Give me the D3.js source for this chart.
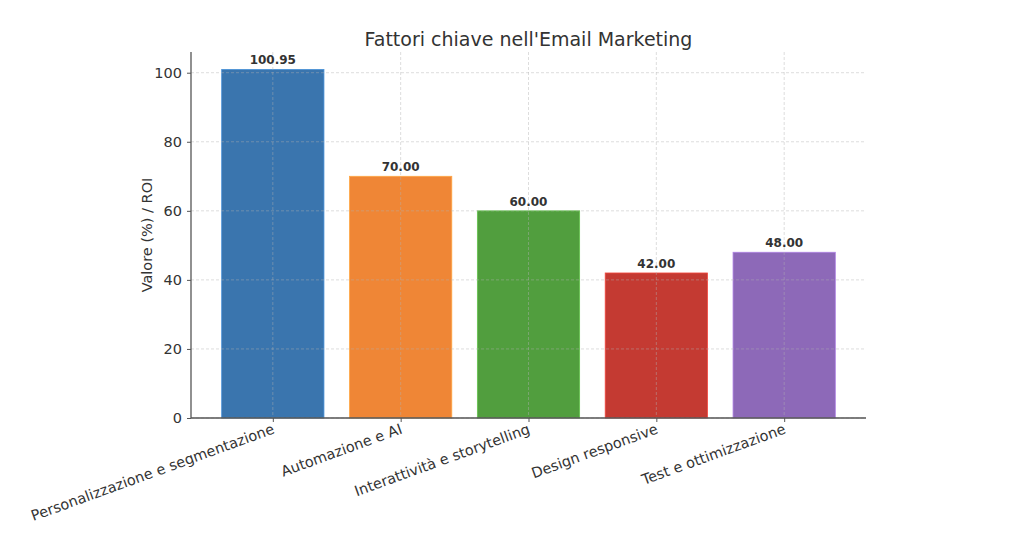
<!DOCTYPE html>
<html>
<head>
	<meta charset="utf-8">
	<title>email marketing</title>
	<script src="https://cdn.jsdelivr.net/npm/d3@7"></script>
	<style>
		body{margin:0;background:#fff;}
		text{font-family:"DejaVu Sans",sans-serif;}
	</style>
</head>
<body>
	<script>
		var categories=["Personalizzazione e segmentazione","Automazione e AI","Interattività e storytelling","Design responsive","Test e ottimizzazione"];
		var values=[100.95,70,60,42,48];
		var colors=["#3a75ae","#ef8636","#519e3e","#c43a32","#8d69b8"];
		var yTicks=[0,20,40,60,80,100];

		var width=1024,height=536;
		var pLeft=191,pRight=866,pTop=52,pBottom=418;

		var svg=d3.select("body").append("svg")
			.attr("width",width).attr("height",height);

		// linear x like matplotlib: bars at 0..4, limits -0.64..4.64
		var x=d3.scaleLinear().domain([-0.64,4.64]).range([pLeft,pRight]);
		var y=d3.scaleLinear().domain([0,106]).range([pBottom,pTop]);
		var bw=x(0.8)-x(0);

		// bars
		svg.selectAll("rect.bar")
			.data(values)
			.enter()
			.append("rect")
			.attr("class","bar")
			.attr("x",function(d,i){return x(i-0.4);})
			.attr("y",function(d){return y(d);})
			.attr("width",bw)
			.attr("height",function(d){return y(0)-y(d);})
			.attr("fill",function(d,i){return colors[i];})
			.attr("stroke",function(d,i){return d3.color(colors[i]).brighter(0.6);})
			.attr("stroke-width",0.8);

		// grid (drawn on top, faint)
		var grid=svg.append("g").attr("stroke","#b0b0b0").attr("stroke-opacity",0.55)
			.attr("stroke-dasharray","3,2").attr("stroke-width",0.8);
		grid.selectAll("line.h").data(yTicks).enter().append("line")
			.attr("x1",pLeft).attr("x2",pRight)
			.attr("y1",function(d){return y(d);}).attr("y2",function(d){return y(d);});
		grid.selectAll("line.v").data(d3.range(categories.length)).enter().append("line")
			.attr("y1",pTop).attr("y2",pBottom)
			.attr("x1",function(d){return x(d);}).attr("x2",function(d){return x(d);});

		// y axis
		var yAxis=d3.axisLeft(y).tickValues(yTicks).tickSize(4).tickPadding(5);
		var gy=svg.append("g").attr("transform","translate("+pLeft+",0)").call(yAxis);
		gy.select(".domain").attr("stroke","#555").attr("stroke-width",1.3).attr("d","M0,"+pTop+"V"+pBottom);
		gy.selectAll(".tick line").attr("stroke","#555");
		gy.selectAll(".tick text").attr("fill","#333").attr("font-size",14.5).attr("font-family","DejaVu Sans");

		// x axis
		var xAxis=d3.axisBottom(x).tickValues(d3.range(categories.length)).tickSize(4).tickFormat(function(i){return categories[i];});
		var gx=svg.append("g").attr("transform","translate(0,"+pBottom+")").call(xAxis);
		gx.select(".domain").attr("stroke","#555").attr("stroke-width",1.3).attr("d","M"+pLeft+",0H"+pRight);
		gx.selectAll(".tick line").attr("stroke","#555");
		gx.selectAll(".tick text")
			.attr("fill","#333").attr("font-size",14.5).attr("font-family","DejaVu Sans")
			.attr("text-anchor","end").attr("dy",null).attr("y",0)
			.attr("transform","translate(2,15) rotate(-20)");

		// value labels
		svg.selectAll("text.val")
			.data(values)
			.enter()
			.append("text")
			.attr("class","val")
			.attr("x",function(d,i){return x(i);})
			.attr("y",function(d){return y(d)-5;})
			.attr("text-anchor","middle")
			.attr("font-size",12)
			.attr("font-weight","bold")
			.attr("fill","#333")
			.text(function(d){return d.toFixed(2);});

		// title and y label
		svg.append("text").attr("x",(pLeft+pRight)/2).attr("y",46)
			.attr("text-anchor","middle").attr("font-size",19).attr("fill","#333")
			.text("Fattori chiave nell'Email Marketing");
		svg.append("text")
			.attr("transform","translate(152,"+((pTop+pBottom)/2)+") rotate(-90)")
			.attr("text-anchor","middle").attr("font-size",14.5).attr("fill","#333")
			.text("Valore (%) / ROI");
	</script>
</body>
</html>
